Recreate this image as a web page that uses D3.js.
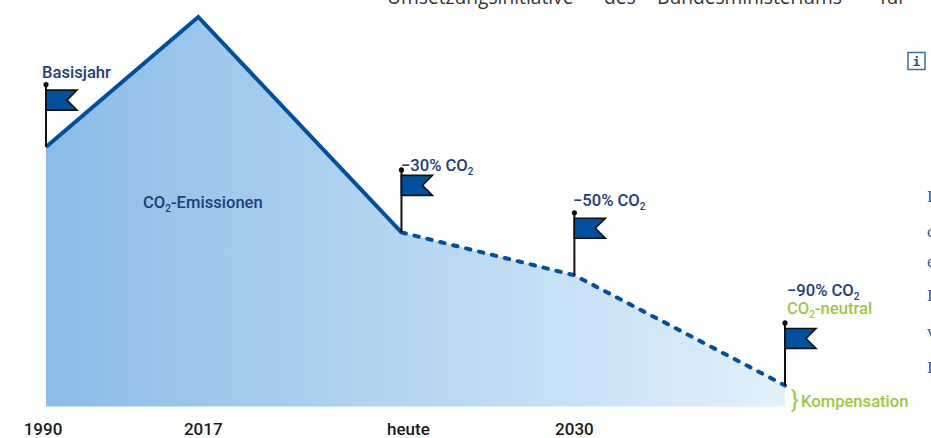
<!DOCTYPE html>
<html>
<head>
<meta charset="utf-8">
<script src="https://d3js.org/d3.v7.min.js"></script>
<style>
	html, body { margin: 0; padding: 0; background: #fff; overflow: hidden; }
	svg { display: block; }
	text { font-family: Roboto, sans-serif; }
	.label { font-size: 16.6px; font-weight: 500; fill: #1c4079; }
	.label--green { fill: #9cc83f; }
	.tick text { font-family: Roboto, sans-serif; font-size: 17px; font-weight: 500; fill: #1a1a1a; }
	.page-text { font-family: "Open Sans", sans-serif; font-size: 19.2px; fill: #333; }
	.page-margin { font-family: "Liberation Serif", serif; font-size: 17px; fill: #2f629e; }
</style>
</head>
<body>
<div id="chart"></div>
<script>
// Chart data
const categories = ['1990', '2017', 'heute', '2030', 'Ziel'];
// Distance along the (not to scale) time axis, 0-100
const timeline = [0, 20.6, 48.1, 71.5, 100];
// Emissions, peak = 100
const emissions = [66.6, 100, 44.7, 33.7, 5.4];
const tickLabels = ['1990', '2017', 'heute', '2030'];
const flagIndexes = [0, 2, 3, 4];

const width = 931;
const height = 438;

const margin = {
	top: 17,
	left: 46,
	right: 146,
	bottom: 31.5
};

const points = categories.map((c, i) => ({ name: c, t: timeline[i], value: emissions[i] }));

const xScale = d3.scaleLinear()
	.domain([0, 100])
	.range([margin.left, width - margin.right]);

const yScale = d3.scaleLinear()
	.domain([0, 100])
	.range([height - margin.bottom, margin.top]);

const svg = d3.select('#chart')
	.append('svg')
	.attr('width', width)
	.attr('height', height);

// Gradient for the area
const gradient = svg.append('defs')
	.append('linearGradient')
	.attr('id', 'areaFill')
	.attr('x1', '0%')
	.attr('x2', '100%')
	.attr('y1', '0%')
	.attr('y2', '0%');
gradient.append('stop').attr('offset', '0%').attr('stop-color', '#8abce7');
gradient.append('stop').attr('offset', '100%').attr('stop-color', '#e2f0fb');

const area = d3.area()
	.x(d => xScale(d.t))
	.y0(yScale(0))
	.y1(d => yScale(d.value));

const line = d3.line()
	.x(d => xScale(d.t))
	.y(d => yScale(d.value));

svg.append('path')
	.datum(points)
	.attr('d', area)
	.attr('fill', 'url(#areaFill)');

// Measured part
svg.append('path')
	.datum(points.slice(0, 3))
	.attr('d', line)
	.attr('fill', 'none')
	.attr('stroke', '#0050a0')
	.attr('stroke-width', 4);

// Planned part
svg.append('path')
	.datum(points.slice(2))
	.attr('d', line)
	.attr('fill', 'none')
	.attr('stroke', '#0050a0')
	.attr('stroke-width', 4)
	.attr('stroke-linecap', 'round')
	.attr('stroke-dasharray', '4.5 8.8');

// Flags
const flags = svg.selectAll('.flag')
	.data(flagIndexes.map(i => points[i]))
	.enter()
	.append('g')
	.attr('class', 'flag')
	.attr('transform', d => `translate(${xScale(d.t)}, ${yScale(d.value)})`);

flags.append('line')
	.attr('y1', 0)
	.attr('y2', -61)
	.attr('stroke', '#111')
	.attr('stroke-width', 2);

flags.append('circle')
	.attr('cy', -62.5)
	.attr('r', 2.6)
	.attr('fill', '#111');

flags.append('path')
	.attr('d', 'M0,-57 H31 L21,-47 L31,-37 H0 Z')
	.attr('fill', '#0050a0')
	.attr('stroke', '#111')
	.attr('stroke-width', 1.6);

// Axis labels, no line
const axis = d3.axisBottom(d3.scalePoint().domain(tickLabels).range([0, 1]))
	.tickSize(0);

const axisGroup = svg.append('g')
	.attr('transform', `translate(0, ${height - margin.bottom})`)
	.call(axis);
axisGroup.select('.domain').remove();

const tickNudge = [-3, 5, 7, 0];
axisGroup.selectAll('.tick')
	.attr('transform', (d, i) => `translate(${xScale(timeline[i]) + tickNudge[i]}, 0)`);
axisGroup.selectAll('.tick text')
	.attr('y', 16)
	.attr('dy', '0.71em');

// Text with a small 2 in CO2
const addLabel = (x, y, parts, cls) => {
	const t = svg.append('text')
		.attr('class', cls)
		.attr('x', x)
		.attr('y', y);
	parts.forEach(p => {
		if (p === '2') {
			t.append('tspan').attr('dy', 4).style('font-size', '10px').text('2');
		} else {
			const s = t.append('tspan').text(p);
			if (t.selectAll('tspan').size() > 1) s.attr('dy', -4);
		}
	});
};

addLabel(42, 78, ['Basisjahr'], 'label');
addLabel(143, 208, ['CO', '2', '-Emissionen'], 'label');
addLabel(401, 171, ['−30% CO', '2'], 'label');
addLabel(573, 206, ['−50% CO', '2'], 'label');
addLabel(787, 296, ['−90% CO', '2'], 'label');
addLabel(787, 314, ['CO', '2', '-neutral'], 'label label--green');
addLabel(801, 407, ['Kompensation'], 'label label--green');

svg.append('text')
	.attr('class', 'label label--green')
	.attr('x', 791)
	.attr('y', 408)
	.style('font-weight', 400)
	.style('font-size', '23px')
	.text('}');

// Rest of the page around the chart
const pageWords = ['Umsetzungsinitiative', 'des', 'Bundesministeriums', 'für'];
const pageWordX = [387, 604, 657, 880];
svg.append('text')
	.attr('class', 'page-text')
	.attr('y', 4)
	.selectAll('tspan')
	.data(pageWords)
	.enter()
	.append('tspan')
	.attr('x', (d, i) => pageWordX[i])
	.text(d => d);

svg.append('rect')
	.attr('x', 908)
	.attr('y', 52.5)
	.attr('width', 17)
	.attr('height', 17)
	.attr('fill', '#fff')
	.attr('stroke', '#3f6ea3')
	.attr('stroke-width', 1.5);

svg.append('text')
	.attr('x', 916.5)
	.attr('y', 66)
	.attr('text-anchor', 'middle')
	.style('font-family', '"DejaVu Sans Mono", monospace')
	.style('font-weight', 700)
	.style('font-size', '13px')
	.style('fill', '#1f4d88')
	.text('i');

const marginLetters = ['I', 'c', 'e', 'I', 'v', 'I'];
const marginRows = [202, 237, 267, 301, 337, 373];
svg.selectAll('.page-margin')
	.data(marginLetters)
	.enter()
	.append('text')
	.attr('class', 'page-margin')
	.attr('x', 927)
	.attr('y', (d, i) => marginRows[i])
	.text(d => d);
</script>
</body>
</html>
